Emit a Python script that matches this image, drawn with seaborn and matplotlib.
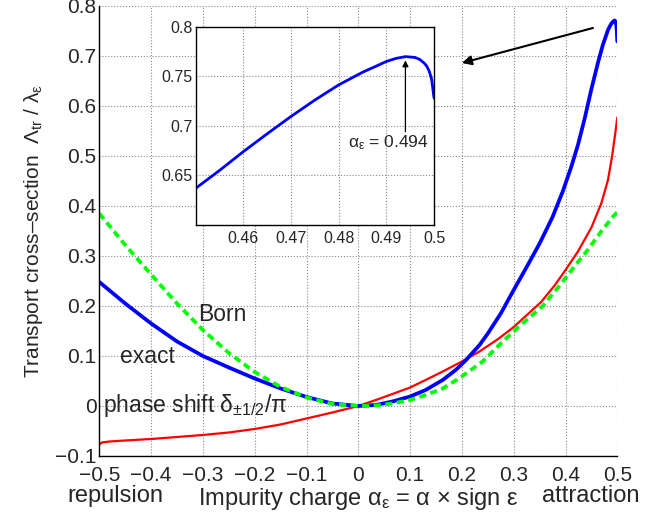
import numpy as np
import matplotlib
matplotlib.use("Agg")
import matplotlib.pyplot as plt
import seaborn as sns

#data
x_exact = [-0.5, -0.45, -0.4, -0.35, -0.3, -0.25, -0.2, -0.15, -0.1, -0.05, 0.0,
           0.034, 0.066, 0.1, 0.13, 0.163, 0.188, 0.208, 0.234, 0.25, 0.275, 0.3, 0.325,
           0.35, 0.375, 0.395, 0.411, 0.424, 0.437, 0.45, 0.463, 0.472, 0.482, 0.488,
           0.492, 0.495, 0.497, 0.498, 0.499, 0.5]
y_exact = [0.248, 0.205, 0.165, 0.129, 0.1, 0.077, 0.055, 0.035, 0.018, 0.005, 0.0,
           0.002, 0.009, 0.019, 0.032, 0.052, 0.072, 0.092, 0.122, 0.145, 0.185, 0.232, 0.278,
           0.325, 0.378, 0.43, 0.478, 0.522, 0.575, 0.634, 0.688, 0.722, 0.752, 0.764,
           0.769, 0.771, 0.768, 0.762, 0.75, 0.729]

x_born = [-0.5, -0.45, -0.4, -0.35, -0.3, -0.25, -0.2, -0.15, -0.1, -0.05, 0.0,
          0.034, 0.066, 0.1, 0.13, 0.163, 0.2, 0.24, 0.275, 0.308, 0.356, 0.392, 0.417,
          0.443, 0.466, 0.492, 0.5]
y_born = [0.385, 0.322, 0.263, 0.205, 0.152, 0.106, 0.068, 0.038, 0.017, 0.004, 0.0,
          0.001, 0.005, 0.012, 0.022, 0.035, 0.059, 0.089, 0.125, 0.157, 0.2, 0.245, 0.279,
          0.312, 0.345, 0.379, 0.388]

x_phase = [-0.5, -0.495, -0.48, -0.45, -0.4, -0.35, -0.3, -0.25, -0.2, -0.15, -0.1,
           -0.05, 0.0, 0.034, 0.066, 0.1, 0.13, 0.163, 0.2, 0.234, 0.27, 0.3, 0.353,
           0.379, 0.4, 0.424, 0.45, 0.469, 0.482, 0.49, 0.496, 0.5]
y_phase = [-0.077, -0.073, -0.071, -0.069, -0.066, -0.062, -0.058, -0.053, -0.046, -0.037, -0.025,
           -0.013, 0.0, 0.012, 0.024, 0.037, 0.052, 0.069, 0.089, 0.109, 0.134, 0.158, 0.208,
           0.241, 0.272, 0.309, 0.357, 0.405, 0.452, 0.5, 0.545, 0.577]

#zoomed view near the maximum
x_inset = [0.45, 0.455, 0.46, 0.465, 0.47, 0.475, 0.48, 0.485, 0.488, 0.49, 0.492,
           0.494, 0.496, 0.497, 0.498, 0.4985, 0.499, 0.4995, 0.5]
y_inset = [0.637, 0.655, 0.674, 0.692, 0.7095, 0.726, 0.7413, 0.754, 0.7605, 0.7649, 0.768,
           0.7698, 0.769, 0.767, 0.763, 0.760, 0.755, 0.747, 0.728]

xticks = [-0.5, -0.4, -0.3, -0.2, -0.1, 0, 0.1, 0.2, 0.3, 0.4, 0.5]
xticklabels = ['\u22120.5', '\u22120.4', '\u22120.3', '\u22120.2', '\u22120.1', '0',
               '0.1', '0.2', '0.3', '0.4', '0.5']
yticks = [-0.1, 0, 0.1, 0.2, 0.3, 0.4, 0.5, 0.6, 0.7, 0.8]
yticklabels = ['\u22120.1', '0', '0.1', '0.2', '0.3', '0.4', '0.5', '0.6', '0.7', '0.8']
inset_xticks = [0.46, 0.47, 0.48, 0.49, 0.5]
inset_xticklabels = ['0.46', '0.47', '0.48', '0.49', '0.5']
inset_yticks = [0.65, 0.7, 0.75, 0.8]
inset_yticklabels = ['0.65', '0.7', '0.75', '0.8']

sns.set_style('white')
plt.rcParams['font.family'] = ['Liberation Sans', 'DejaVu Sans']
plt.rcParams['mathtext.fontset'] = 'custom'
plt.rcParams['mathtext.rm'] = 'Liberation Sans'
plt.rcParams['mathtext.it'] = 'Liberation Sans'
plt.rcParams['mathtext.bf'] = 'Liberation Sans:bold'
plt.rcParams['xtick.direction'] = 'in'
plt.rcParams['ytick.direction'] = 'in'

fig = plt.figure(figsize=(6.67, 5.16), dpi=100)
ax = fig.add_axes([0.1489, 0.1163, 0.7766, 0.8721])

sns.lineplot(x=x_phase, y=y_phase, ax=ax, color='red', lw=1.6, sort=False)
sns.lineplot(x=x_exact, y=y_exact, ax=ax, color='blue', lw=2.7, sort=False)
sns.lineplot(x=x_born, y=y_born, ax=ax, color='#00ff00', lw=2.7, sort=False,
             linestyle=(0, (1.9, 1.2)))

ax.set_xlim(-0.5, 0.5)
ax.set_ylim(-0.1, 0.8)
ax.set_xticks(xticks)
ax.set_xticklabels(xticklabels, fontsize=15)
ax.set_yticks(yticks)
ax.set_yticklabels(yticklabels, fontsize=15)
ax.tick_params(axis='x', length=4, width=0.8, color='black', pad=7)
ax.tick_params(axis='y', length=4, width=0.8, color='black', pad=2)
ax.grid(True, linestyle=':', color='#888888', lw=0.8)
for side in ['top', 'right']:
    ax.spines[side].set_visible(False)
for side in ['left', 'bottom']:
    ax.spines[side].set_color('black')
    ax.spines[side].set_linewidth(1.0)

ax.set_xlabel(r'Impurity charge $\alpha_\varepsilon$ = $\alpha$ $\times$ sign $\varepsilon$',
              fontsize=17)
ax.set_ylabel('Transport cross\u2013section  $\\Lambda_{\\rm tr}$ / $\\lambda_\\varepsilon$',
              fontsize=15)
ax.xaxis.set_label_coords(0.5, -0.066)
ax.yaxis.set_label_coords(-0.105, 0.5)
fig.text(115 / 667, 1 - 502 / 516, 'repulsion', fontsize=17, ha='center', va='baseline')
fig.text(591 / 667, 1 - 502 / 516, 'attraction', fontsize=17, ha='center', va='baseline')

ax.text(-0.309, 0.182, 'Born', fontsize=16.5, ha='left', va='center')
ax.text(-0.46, 0.099, 'exact', fontsize=16.5, ha='left', va='center')
ax.text(-0.493, 0.0, r'phase shift $\delta_{\pm 1/2}/\pi$', fontsize=16.5,
        ha='left', va='center')

ax.annotate('', xy=(0.2, 0.686), xytext=(0.453, 0.756),
            arrowprops=dict(arrowstyle='-|>', color='black', lw=1.5,
                            mutation_scale=14, shrinkA=0, shrinkB=0))

#inset
ins = fig.add_axes([0.2934, 0.5640, 0.3573, 0.3843])
sns.lineplot(x=x_inset, y=y_inset, ax=ins, color='blue', lw=2.0, sort=False)
ins.set_xlim(0.45, 0.5)
ins.set_ylim(0.6, 0.8)
ins.set_xticks(inset_xticks)
ins.set_xticklabels(inset_xticklabels, fontsize=11.5)
ins.set_yticks(inset_yticks)
ins.set_yticklabels(inset_yticklabels, fontsize=11.5)
ins.tick_params(axis='x', length=4, width=0.8, color='black', pad=4)
ins.tick_params(axis='y', length=4, width=0.8, color='black', pad=2)
ins.grid(True, linestyle=':', color='#888888', lw=0.8)
for side in ins.spines:
    ins.spines[side].set_color('black')
    ins.spines[side].set_linewidth(1.0)

ins.annotate('', xy=(0.494, 0.766), xytext=(0.494, 0.694),
             arrowprops=dict(arrowstyle='-|>', color='black', lw=0.9,
                             mutation_scale=9, shrinkA=0, shrinkB=0))
ins.text(0.4988, 0.683, r'$\alpha_\varepsilon$ = 0.494', fontsize=12.5,
         ha='right', va='center')

fig.savefig('out.png', dpi=100)
